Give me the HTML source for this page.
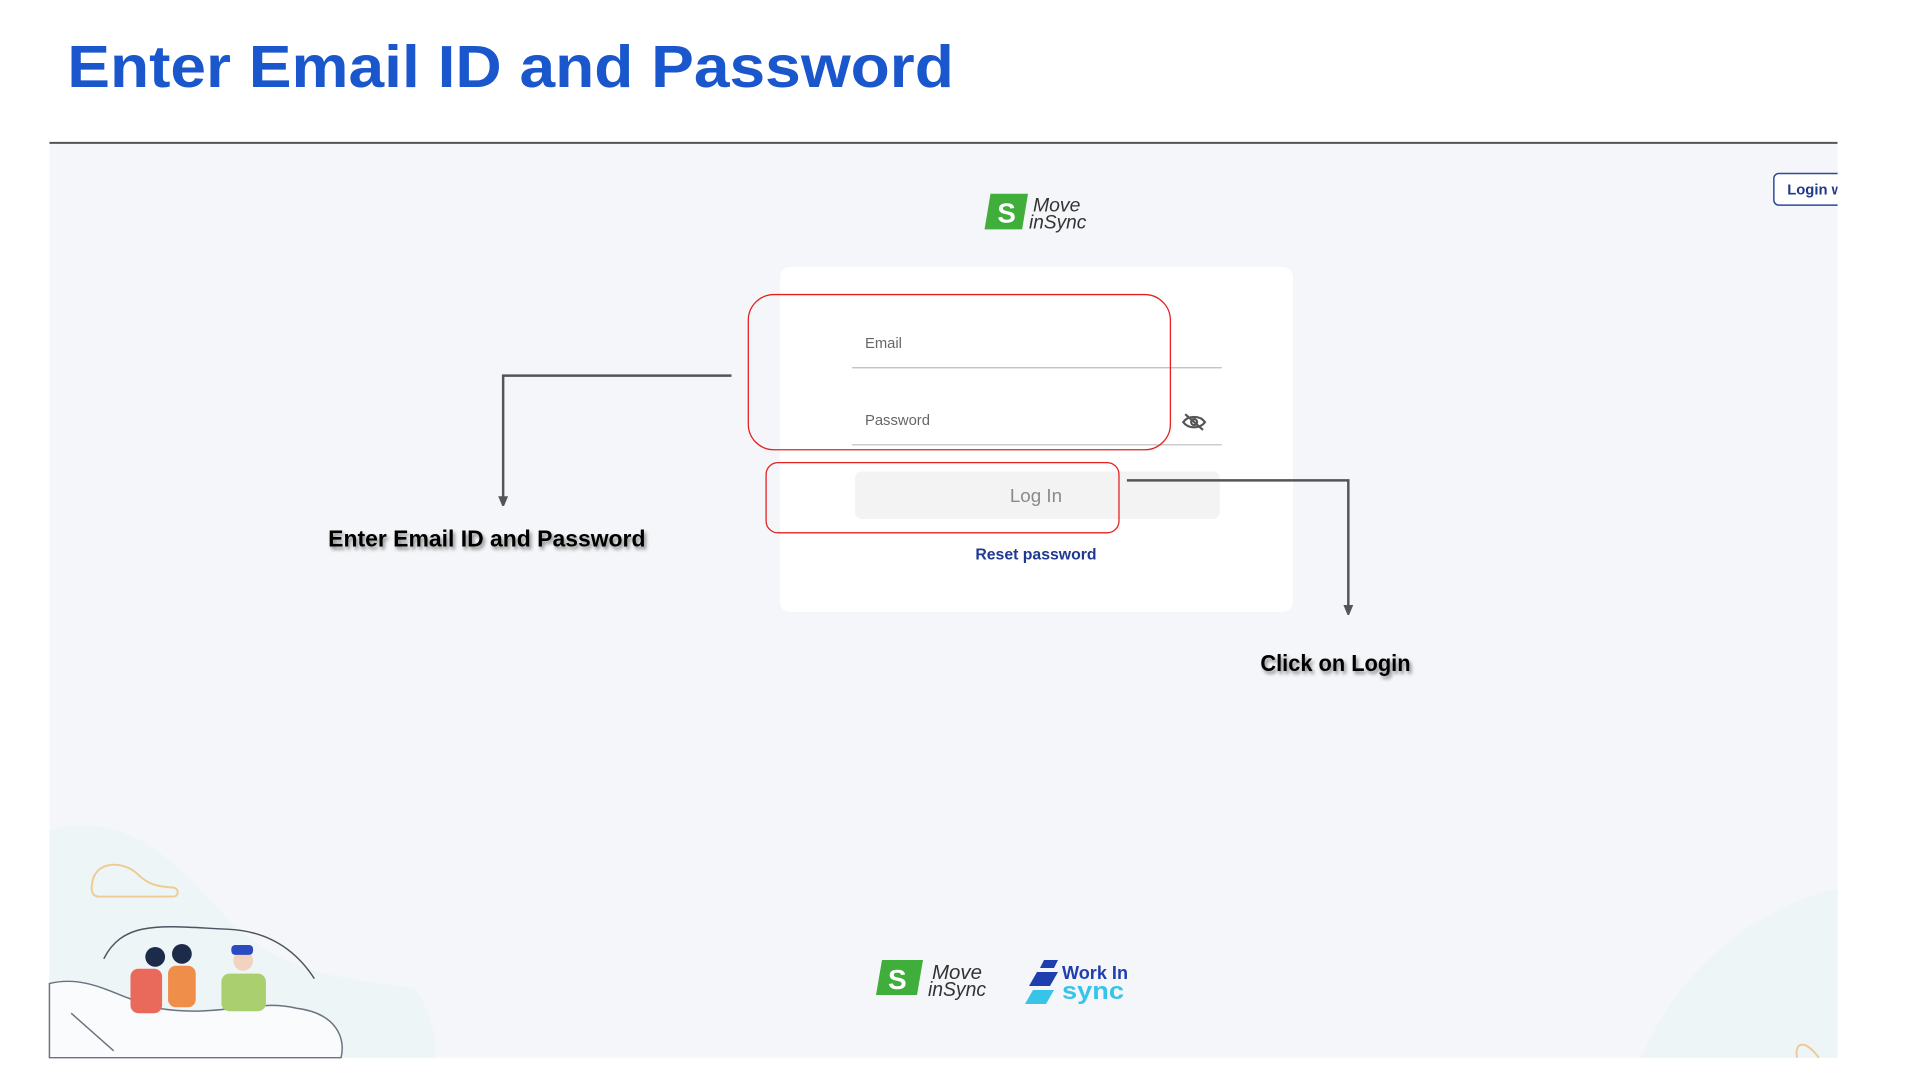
<!DOCTYPE html>
<html><head><meta charset="utf-8"><style>
html,body{margin:0;padding:0;background:#fff;width:1920px;height:1080px;overflow:hidden}
svg{display:block}
text{font-family:"Liberation Sans",sans-serif}
</style></head><body>
<svg width="1920" height="1080" viewBox="0 0 1920 1080" xmlns="http://www.w3.org/2000/svg">
<defs>
<filter id="sh" x="-10%" y="-50%" width="120%" height="200%"><feDropShadow dx="2" dy="3" stdDeviation="2" flood-color="#000" flood-opacity="0.45"/></filter>
<marker id="ar" markerWidth="10" markerHeight="10" refX="5" refY="9" orient="0" markerUnits="userSpaceOnUse"><path d="M0,0 L10,0 L5,12 Z" fill="#555"/></marker>
</defs>
<g transform="scale(0.9885)">
<text x="68" y="88" font-size="60" font-weight="bold" fill="#1a56cc" textLength="897" lengthAdjust="spacingAndGlyphs">Enter Email ID and Password</text>
<rect x="50" y="145" width="1809" height="925" fill="#f5f6f9"/>
<line x1="50" y1="144.5" x2="1859" y2="144.5" stroke="#555" stroke-width="2"/>
<path d="M50 840 C120 820 170 860 230 930 C290 990 360 990 420 1000 C440 1030 440 1050 440 1070 L50 1070 Z" fill="#eef5f7"/>
<path d="M1660 1070 C1700 980 1760 940 1800 920 C1830 905 1850 900 1859 900 L1859 1070 Z" fill="#eef5f7"/>
<path d="M93 895 C95 870 125 870 140 885 C150 895 160 897 176 898 C182 900 180 907 176 907 L100 907 C94 907 92 902 93 895 Z" fill="none" stroke="#eecb94" stroke-width="2"/>
<path d="M50 995 C90 985 120 1010 160 1020 C220 1030 260 1010 300 1020 C340 1025 350 1050 345 1070 L50 1070 Z" fill="#fafbfc" stroke="#6a7480" stroke-width="1.5"/>
<path d="M105 970 C125 930 165 937 230 940 C280 942 305 970 318 990" fill="none" stroke="#4a5560" stroke-width="1.5"/>
<rect x="132" y="980" width="32" height="45" rx="8" fill="#e96a5a"/>
<rect x="170" y="977" width="28" height="42" rx="8" fill="#ef8d4a"/>
<rect x="224" y="985" width="45" height="38" rx="8" fill="#a9cf6e"/>
<circle cx="157" cy="968" r="10" fill="#1d2b4a"/>
<circle cx="184" cy="965" r="10" fill="#1d2b4a"/>
<circle cx="246" cy="972" r="10" fill="#f2d3c0"/>
<rect x="234" y="956" width="22" height="10" rx="4" fill="#2a4cc0"/>
<line x1="72" y1="1025" x2="115" y2="1063" stroke="#6a7480" stroke-width="1.5"/>
<path d="M1818 1070 C1815 1055 1825 1050 1840 1070" fill="none" stroke="#eecb94" stroke-width="2"/>
<rect x="1794.5" y="175.5" width="70" height="32" rx="5" fill="#fff" stroke="#2c4a9a" stroke-width="1.5"/>
<text x="1808" y="197" font-size="15" font-weight="bold" fill="#1e3a8a">Login w</text>
<rect x="1859" y="140" width="80" height="80" fill="#fff"/>
<path d="M1002 196 L1040 196 L1034 232 L996 232 Z" fill="#3fae3a"/>
<text x="1009" y="225" font-size="28" font-weight="bold" fill="#fff">S</text>
<text x="1045" y="214" font-size="20" font-style="italic" fill="#333" textLength="48" lengthAdjust="spacingAndGlyphs">Move</text>
<text x="1041" y="231" font-size="20" font-style="italic" fill="#333" textLength="58" lengthAdjust="spacingAndGlyphs">inSync</text>
<rect x="789" y="270" width="519" height="349" rx="10" fill="#fff"/>
<text x="875" y="352" font-size="15" fill="#666">Email</text>
<line x1="862" y1="372" x2="1236" y2="372" stroke="#bbb" stroke-width="1.2"/>
<text x="875" y="430" font-size="15" fill="#666">Password</text>
<line x1="862" y1="450" x2="1236" y2="450" stroke="#bbb" stroke-width="1.2"/>
<g transform="translate(1208,427)" fill="none" stroke="#555" stroke-width="2.2">
<path d="M-11 0 C-6 -7 6 -7 11 0 C6 7 -6 7 -11 0 Z"/><circle cx="0" cy="0" r="3"/><line x1="-9" y1="-8" x2="9" y2="8"/>
</g>
<rect x="865" y="477" width="369" height="48" rx="7" fill="#f3f3f3"/>
<text x="1048" y="508" font-size="19" fill="#8a8a8a" text-anchor="middle">Log In</text>
<text x="1048" y="566" font-size="16" font-weight="bold" fill="#1f3a93" text-anchor="middle">Reset password</text>
<rect x="757" y="298" width="427" height="157" rx="26" fill="none" stroke="#e52020" stroke-width="1.3"/>
<rect x="775" y="468" width="357" height="71" rx="12" fill="none" stroke="#e52020" stroke-width="1.3"/>
<polyline points="740,380 509,380 509,511" fill="none" stroke="#555" stroke-width="2.5" marker-end="url(#ar)"/>
<polyline points="1140,486 1364,486 1364,621" fill="none" stroke="#555" stroke-width="2.5" marker-end="url(#ar)"/>
<text x="332" y="553" font-size="23" font-weight="bold" fill="#000" filter="url(#sh)" textLength="321" lengthAdjust="spacingAndGlyphs">Enter Email ID and Password</text>
<text x="1275" y="679" font-size="23" font-weight="bold" fill="#000" filter="url(#sh)" textLength="152" lengthAdjust="spacingAndGlyphs">Click on Login</text>
</g>
<path d="M882 960 L923 960 L917 995 L876 995 Z" fill="#3fae3a"/>
<text x="888" y="989" font-size="28" font-weight="bold" fill="#fff">S</text>
<text x="932" y="979" font-size="20" font-style="italic" fill="#333" textLength="50" lengthAdjust="spacingAndGlyphs">Move</text>
<text x="928" y="996" font-size="20" font-style="italic" fill="#333" textLength="58" lengthAdjust="spacingAndGlyphs">inSync</text>
<path d="M1037 972 L1058 972 L1050 986 L1029 986 Z M1044 960 L1058 960 L1054 968 L1040 968 Z" fill="#1f3fae"/>
<path d="M1033 990 L1054 990 L1046 1004 L1025 1004 Z" fill="#38c3e8"/>
<text x="1062" y="979" font-size="18" font-weight="bold" fill="#1f3fae" textLength="66" lengthAdjust="spacingAndGlyphs">Work In</text>
<text x="1062" y="999" font-size="24" font-weight="bold" fill="#38c3e8" textLength="62" lengthAdjust="spacingAndGlyphs">sync</text>
</svg>
</body></html>
